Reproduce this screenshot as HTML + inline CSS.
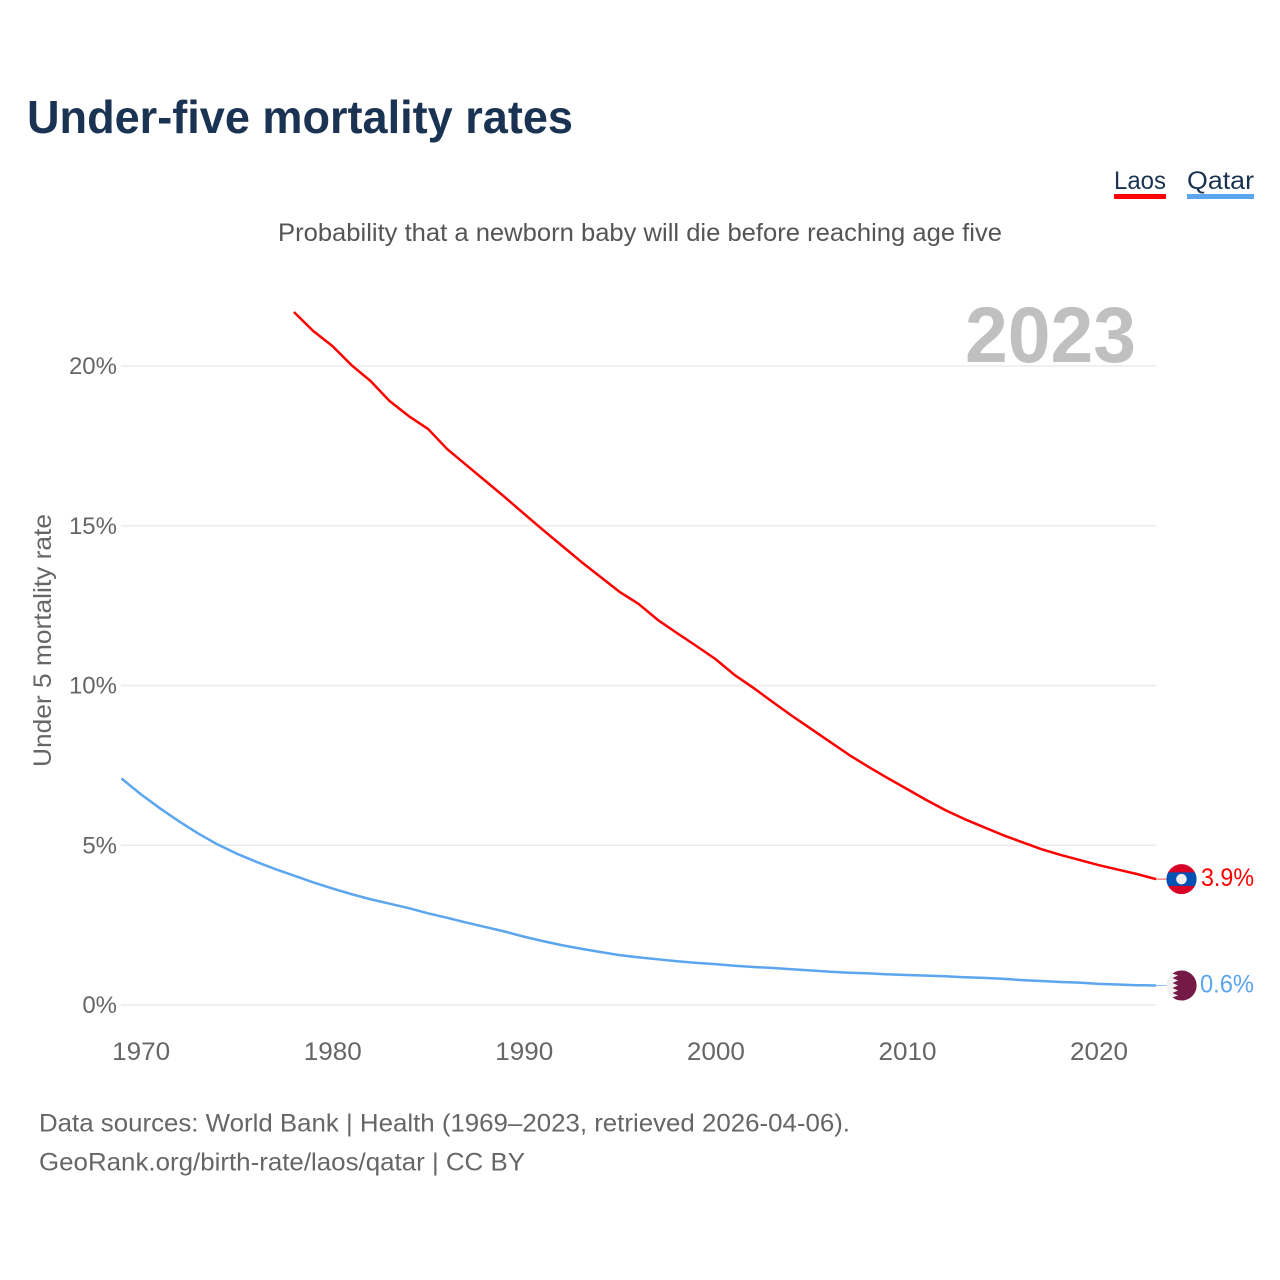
<!DOCTYPE html>
<html lang="en">
<head>
<meta charset="utf-8">
<title>Under-five mortality rates</title>
<style>
html,body{margin:0;padding:0;background:#fff;width:1280px;height:1280px;overflow:hidden}
svg{display:block}
text{font-family:"Liberation Sans",sans-serif}
</style>
</head>
<body>
<svg id="chart" xmlns="http://www.w3.org/2000/svg" width="1280" height="1280" viewBox="0 0 1280 1280">
  <rect width="1280" height="1280" fill="#fff"/>
  <text x="27" y="133" font-size="46" font-weight="700" fill="#1a3352" textLength="546" lengthAdjust="spacingAndGlyphs">Under-five mortality rates</text>
  <g>
    <text x="1114" y="189" font-size="25" fill="#1a3352" textLength="52" lengthAdjust="spacingAndGlyphs">Laos</text>
    <rect x="1114" y="194" width="52" height="5" fill="#ff0000"/>
  </g>
  <g>
    <text x="1187" y="189" font-size="25" fill="#1a3352" textLength="67" lengthAdjust="spacingAndGlyphs">Qatar</text>
    <rect x="1187" y="194" width="67" height="5" fill="#5ba6ee"/>
  </g>
  <text x="278" y="241" font-size="25" fill="#555" textLength="724" lengthAdjust="spacingAndGlyphs">Probability that a newborn baby will die before reaching age five</text>
  <g id="grid"></g>
  <text x="965" y="362" font-size="79" font-weight="700" fill="#c0c0c0" textLength="171" lengthAdjust="spacingAndGlyphs">2023</text>
  <g id="yticks"></g>
  <g id="xticks"></g>
  <text transform="translate(51,767) rotate(-90)" font-size="25" fill="#666" textLength="253" lengthAdjust="spacingAndGlyphs">Under 5 mortality rate</text>
  <g id="series"></g>
  <g id="ends"></g>
  <text x="39" y="1131.5" font-size="25" fill="#666" textLength="811" lengthAdjust="spacingAndGlyphs">Data sources: World Bank | Health (1969–2023, retrieved 2026-04-06).</text>
  <text x="39" y="1170.5" font-size="25" fill="#666" textLength="486" lengthAdjust="spacingAndGlyphs">GeoRank.org/birth-rate/laos/qatar | CC BY</text>
</svg>
<script>
const yTickValues = [0, 5, 10, 15, 20];
const xTickValues = [1970, 1980, 1990, 2000, 2010, 2020];
const laosStartYear = 1978;
const laosValues = [21.69,21.1,20.63,20.03,19.53,18.9,18.43,18.03,17.4,16.9,16.4,15.9,15.38,14.87,14.37,13.87,13.4,12.93,12.55,12.05,11.64,11.24,10.83,10.33,9.92,9.48,9.05,8.64,8.23,7.82,7.45,7.1,6.76,6.42,6.1,5.82,5.57,5.32,5.1,4.88,4.7,4.54,4.38,4.24,4.1,3.94];
const qatarStartYear = 1969;
const qatarValues = [7.09,6.6,6.16,5.75,5.37,5.03,4.74,4.49,4.26,4.05,3.84,3.65,3.47,3.31,3.17,3.03,2.87,2.73,2.58,2.44,2.3,2.14,2.0,1.87,1.76,1.66,1.56,1.49,1.43,1.37,1.32,1.28,1.23,1.19,1.16,1.12,1.08,1.04,1.01,0.99,0.96,0.94,0.92,0.9,0.87,0.85,0.82,0.78,0.75,0.72,0.7,0.66,0.64,0.62,0.61];
const laosLabel = "3.9%";
const qatarLabel = "0.6%";

const svgNS = "http://www.w3.org/2000/svg";
const xScale = year => 121.5 + (year - 1969) * (1156 - 121.5) / 54;
const yScale = value => 1005 - value * 31.95;
function make(tag, parent, attrs) {
  const el = document.createElementNS(svgNS, tag);
  for (const key in attrs) el.setAttribute(key, attrs[key]);
  parent.appendChild(el);
  return el;
}
function linePath(startYear, values) {
  return values.map((v, i) => (i ? "L" : "M") + xScale(startYear + i).toFixed(2) + " " + yScale(v).toFixed(2)).join("");
}

const grid = document.getElementById("grid");
const yticks = document.getElementById("yticks");
yTickValues.forEach(v => {
  const gridline = make("line", grid, {x1: 121, x2: 1156, y1: yScale(v), y2: yScale(v), stroke: "#ebebeb", "stroke-width": 1.5});
  
  
  const label = make("text", yticks, {x: 117, y: yScale(v) + 8, "text-anchor": "end", "font-size": 24, fill: "#666"});
  
  
  label.textContent = v + "%";
});

const xticks = document.getElementById("xticks");
xTickValues.forEach(year => {
  const label = make("text", xticks, {x: xScale(year) - 28.5, y: 1060, "font-size": 25, fill: "#666", textLength: 58, lengthAdjust: "spacingAndGlyphs"});
  
  
  label.textContent = year;
});

const series = document.getElementById("series");
const laosLine = make("path", series, {d: linePath(laosStartYear, laosValues), fill: "none", stroke: "#ff0000", "stroke-width": 2.5, "stroke-linejoin": "round"});


const qatarLine = make("path", series, {d: linePath(qatarStartYear, qatarValues), fill: "none", stroke: "#5ba6ee", "stroke-width": 2.5, "stroke-linejoin": "round"});



const ends = document.getElementById("ends");
const laosEnd = yScale(laosValues[laosValues.length - 1]);
const qatarEnd = yScale(qatarValues[qatarValues.length - 1]);

const laosConnector = make("line", ends, {x1: 1156, x2: 1167, y1: laosEnd, y2: laosEnd, stroke: "#ff0000", "stroke-width": 1, opacity: 0.7});


const qatarConnector = make("line", ends, {x1: 1156, x2: 1167, y1: qatarEnd, y2: qatarEnd, stroke: "#5ba6ee", "stroke-width": 1, opacity: 0.7});



const laosFlag = make("g", ends, {transform: "translate(1181.5," + laosEnd + ")"});


make("circle", laosFlag, {r: 15, fill: "#d80027"});
make("path", laosFlag, {d: "M-13.4 -6.7H13.4A15 15 0 0 1 13.4 6.7H-13.4A15 15 0 0 1 -13.4 -6.7Z", fill: "#0052b4"});
make("circle", laosFlag, {r: 5.3, fill: "#f0f0f0"});

const qatarFlag = make("g", ends, {transform: "translate(1181.5," + qatarEnd + ")"});


make("circle", qatarFlag, {r: 15, fill: "#f0f0f0"});
make("path", qatarFlag, {d: "M-6 -13.7A15 15 0 1 1 -6 13.7L-9 12L-3.5 10L-9 7.5L-3.5 5L-9 2.5L-3.5 0L-9 -2.5L-3.5 -5L-9 -7.5L-3.5 -10L-9 -12Z", fill: "#751a46"});

const laosText = make("text", ends, {x: 1201, y: laosEnd + 7, "font-size": 25, fill: "#ff0000", textLength: 53, lengthAdjust: "spacingAndGlyphs"});


laosText.textContent = laosLabel;
const qatarText = make("text", ends, {x: 1200, y: qatarEnd + 7, "font-size": 25, fill: "#5ba6ee", textLength: 54, lengthAdjust: "spacingAndGlyphs"});


qatarText.textContent = qatarLabel;
</script>
</body>
</html>
